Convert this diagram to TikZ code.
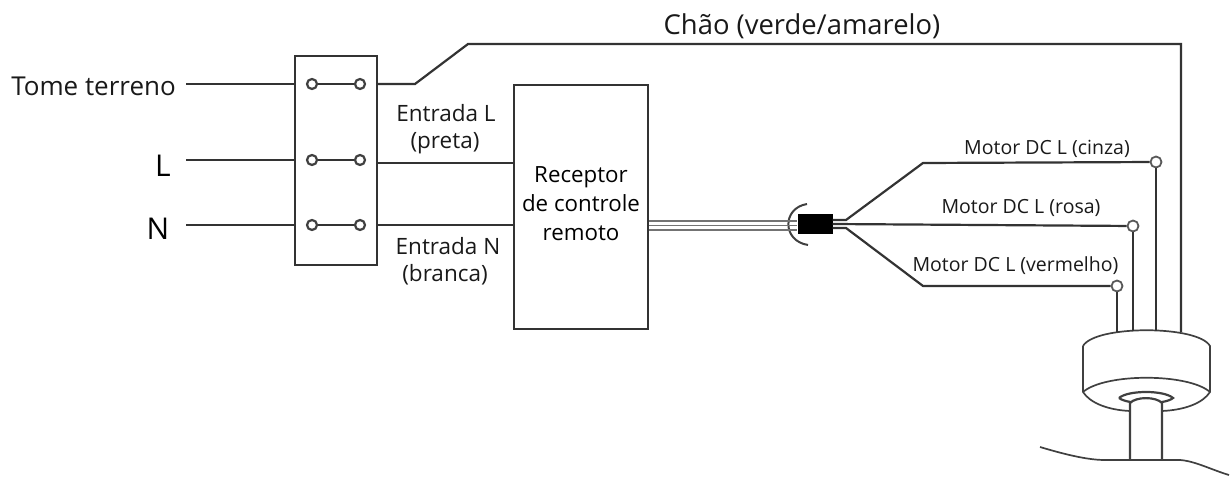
\documentclass[tikz,border=0pt]{standalone}
\usepackage{fontspec}
\setmainfont{Open Sans}
\usetikzlibrary{calc}
\begin{document}
\begin{tikzpicture}[
    x=1pt, y=-1pt,
    wire/.style={draw=black!80, line width=2.2pt},
    box/.style={rectangle, draw=black!80, line width=2.1pt, fill=white, inner sep=0pt},
    terminal/.style={circle, draw=black!75, line width=2.2pt, fill=white, minimum size=10pt, inner sep=0pt},
    joint/.style={circle, draw=black!65, line width=1.8pt, fill=white, minimum size=11pt, inner sep=0pt},
    label_big/.style={font=\fontsize{27.4}{29}\selectfont, text=black!90, inner sep=0pt},
    label_mid/.style={font=\fontsize{22.5}{24}\selectfont, text=black!90, inner sep=0pt},
    label_motor/.style={font=\fontsize{19.5}{21}\selectfont, text=black!90, inner sep=0pt},
    motor_line/.style={draw=black!75, line width=1.7pt}
]
\useasboundingbox (0,0) rectangle (1232,478);
% caixa de terminais
\node[box, minimum width=82pt, minimum height=209pt] (block) at (336,160.5) {};
\node[terminal] (t1_in) at (312,84) {};
\node[terminal] (t1_out) at (360,84) {};
\node[terminal] (t2_in) at (312,160) {};
\node[terminal] (t2_out) at (360,160) {};
\node[terminal] (t3_in) at (312,225) {};
\node[terminal] (t3_out) at (360,225) {};
\draw[wire] (t1_in) -- (t1_out);
\draw[wire] (t2_in) -- (t2_out);
\draw[wire] (t3_in) -- (t3_out);
% receptor
\node[box, minimum width=134pt, minimum height=244pt] (receiver) at (581,207) {};
\node[align=center, font=\fontsize{22.3}{29}\selectfont, inner sep=0pt] (receiver_text) at (581,204) {Receptor\\de controle\\remoto};
% entradas
\node[font=\fontsize{26}{28}\selectfont, text=black!90, inner sep=0pt, anchor=east] (tome) at (176,86) {Tome terreno};
\node[font=\fontsize{30}{32}\selectfont, inner sep=0pt] (live) at (163,166) {L};
\node[font=\fontsize{30}{32}\selectfont, inner sep=0pt] (neutral) at (158,229) {N};
\coordinate (tome_w) at (186,84);
\coordinate (live_w) at (186,160);
\coordinate (neutral_w) at (186,225);
\draw[wire] (tome_w) -- (tome_w -| block.west);
\draw[wire] (live_w) -- (live_w -| block.west);
\draw[wire] (neutral_w) -- (neutral_w -| block.west);
\node[label_mid] (in_l) at (446,113) {Entrada L};
\node[label_mid] (in_l_c) at (445,143) {(preta)};
\node[label_mid] (in_n) at (448,246) {Entrada N};
\node[label_mid] (in_n_c) at (445,275) {(branca)};
\node[label_big] (ground) at (802,26) {Chão (verde/amarelo)};
% motor
\coordinate (m_tl) at (1083,346);
\coordinate (m_tr) at (1210,346);
\coordinate (m_bl) at (1083,392);
\coordinate (m_br) at (1210,392);
\coordinate (s_l) at (1130,460);
\coordinate (s_r) at (1162,460);
\draw[motor_line] (m_tl) .. controls (1095,325) and (1198,325) .. (m_tr) -- (m_br)
    .. controls (1203,403) and (1185,410) .. (1162,411);
\draw[motor_line] (m_tl) -- (m_bl) .. controls (1090,403) and (1108,410) .. (1130,411);
\draw[motor_line] (m_bl) .. controls (1105,373) and (1188,373) .. (m_br);
\draw[motor_line, line width=2.2pt] (1119,398) .. controls (1128,390) and (1164,390) .. (1173,398)
    .. controls (1165,405) and (1128,405) .. (1119,398);
\draw[motor_line, line width=2.2pt, fill=white] (s_l) -- (1130,403) .. controls (1136,396.5) and (1156,396.5) .. (1162,403) -- (s_r);
\draw[motor_line] (1040,447) .. controls (1070,456) and (1090,460) .. (1105,460)
    -- (s_l) -- (s_r) -- (1180,460) .. controls (1195,461) and (1212,470) .. (1229,475);
% terra
\coordinate (g1) at (415,84);
\coordinate (g2) at (468,44);
\coordinate (g3) at (1181,44);
\coordinate (g4) at (1181,332);
\draw[wire] (t1_out -| block.east) -- (g1) -- (g2) -- (g3) -- (g4);
\draw[wire] (block.east |- 0,163) -- (receiver.west |- 0,163);
\draw[wire] (t3_out -| block.east) -- (t3_out -| receiver.west);
% cabo
\node[rectangle, fill=black, minimum width=35pt, minimum height=20pt, inner sep=0pt] (plug) at (815,224) {};
\draw[motor_line, line width=2pt] (807,204) .. controls (782,208) and (782,241) .. (808,245);
\foreach \yy in {221,225.5,230} {
    \draw[draw=black!55, line width=1.6pt] (receiver.east |- 0,\yy) -- (plug.west |- 0,\yy);
}
\node[joint] (j_grey) at (1156,162) {};
\node[joint] (j_pink) at (1133,226) {};
\node[joint] (j_red) at (1117,286) {};
\coordinate (b_grey) at (923,163);
\coordinate (b_red) at (923,286);
\draw[wire] (plug.east |- 0,220) -- (846,220) -- (b_grey) -- (j_grey);
\draw[wire] (plug.east |- 0,224) -- (j_pink);
\draw[wire] (plug.east |- 0,228) -- (846,228) -- (b_red) -- (j_red);
\draw[wire] (j_grey) -- (1156,331);
\draw[wire] (j_pink) -- (1133,331);
\draw[wire] (j_red) -- (1117,332);
\node[label_motor] (l_grey) at (1047,149) {Motor DC L (cinza)};
\node[label_motor] (l_pink) at (1021,208) {Motor DC L (rosa)};
\node[label_motor] (l_red) at (1015.5,266) {Motor DC L (vermelho)};
\end{tikzpicture}
\end{document}
